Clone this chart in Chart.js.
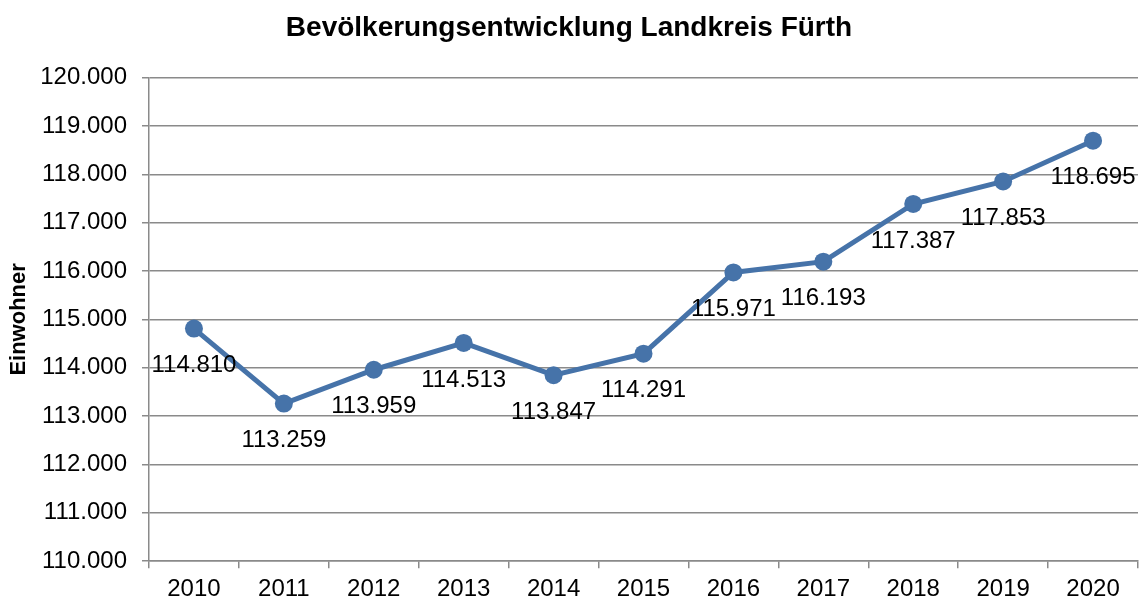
<!DOCTYPE html>
<html>
<head>
<meta charset="utf-8">
<script src="https://cdn.jsdelivr.net/npm/chart.js@4.4.1/dist/chart.umd.min.js"></script>
<style>
  html, body { margin: 0; padding: 0; background: #ffffff; }
  #wrap { width: 1139px; height: 600px; position: relative; }
</style>
</head>
<body>
<div id="wrap"><canvas id="c"></canvas></div>
<script>
const categories = ['2010', '2011', '2012', '2013', '2014', '2015', '2016', '2017', '2018', '2019', '2020'];
const einwohner = [114810, 113259, 113959, 114513, 113847, 114291, 115971, 116193, 117387, 117853, 118695];
const yMin = 110000;
const yMax = 120000;
const yStep = 1000;
const chartTitle = 'Bevölkerungsentwicklung Landkreis Fürth';
const yTitle = 'Einwohner';

const FONT = "'Liberation Sans', Arial, sans-serif";
const LINE = '#4673A9';
const GRID = '#8a8a8a';

function fmt(v) {
  return String(Math.round(v)).replace(/\B(?=(\d{3})+(?!\d))/g, '.');
}

const dataLabels = {
  id: 'dataLabels',
  afterDatasetsDraw(chart) {
    const ctx = chart.ctx;
    const meta = chart.getDatasetMeta(0);
    const ds = chart.data.datasets[0];
    ctx.save();
    ctx.font = '24px ' + FONT;
    ctx.fillStyle = '#000000';
    ctx.textAlign = 'center';
    ctx.textBaseline = 'middle';
    meta.data.forEach((pt, i) => {
      ctx.fillText(fmt(ds.data[i]), pt.x, pt.y + 37);
    });
    ctx.restore();
  }
};

new Chart(document.getElementById('c'), {
  type: 'line',
  data: {
    labels: categories,
    datasets: [{
      label: yTitle,
      data: einwohner,
      borderColor: LINE,
      backgroundColor: LINE,
      borderWidth: 5,
      pointRadius: 9,
      pointHoverRadius: 9,
      pointBackgroundColor: LINE,
      pointBorderWidth: 0,
      tension: 0,
      fill: false,
      clip: false
    }]
  },
  options: {
    responsive: true,
    maintainAspectRatio: false,
    animation: false,
    layout: { autoPadding: false, padding: { left: 0, right: 1, top: 0, bottom: -11 } },
    plugins: {
      legend: { display: false },
      tooltip: { enabled: false },
      title: {
        display: true,
        text: chartTitle,
        color: '#000000',
        font: { family: FONT, size: 28, weight: 'bold' },
        padding: { top: 11, bottom: 33 }
      }
    },
    scales: {
      x: {
        type: 'category',
        offset: true,
        afterFit(scale) { scale.paddingLeft = 0; scale.paddingRight = 0; },
        grid: {
          offset: true,
          drawOnChartArea: false,
          drawTicks: true,
          tickLength: 7,
          color: GRID,
          lineWidth: 1.5
        },
        border: { display: true, color: GRID, width: 1.5 },
        ticks: {
          color: '#000000',
          font: { family: FONT, size: 24 },
          padding: 7,
          maxRotation: 0,
          autoSkip: false
        }
      },
      y: {
        min: yMin,
        max: yMax,
        afterFit(scale) { scale.width = 149; },
        grid: {
          drawOnChartArea: true,
          drawTicks: true,
          tickLength: 7,
          color: GRID,
          lineWidth: 1.5
        },
        border: { display: true, color: GRID, width: 1.5 },
        ticks: {
          stepSize: yStep,
          color: '#000000',
          font: { family: FONT, size: 24 },
          padding: 15,
          callback: (v) => fmt(v)
        },
        title: {
          display: true,
          text: yTitle,
          color: '#000000',
          font: { family: FONT, size: 22, weight: 'bold' },
          padding: { top: 6, bottom: 0 }
        }
      }
    }
  },
  plugins: [dataLabels]
});
</script>
</body>
</html>
